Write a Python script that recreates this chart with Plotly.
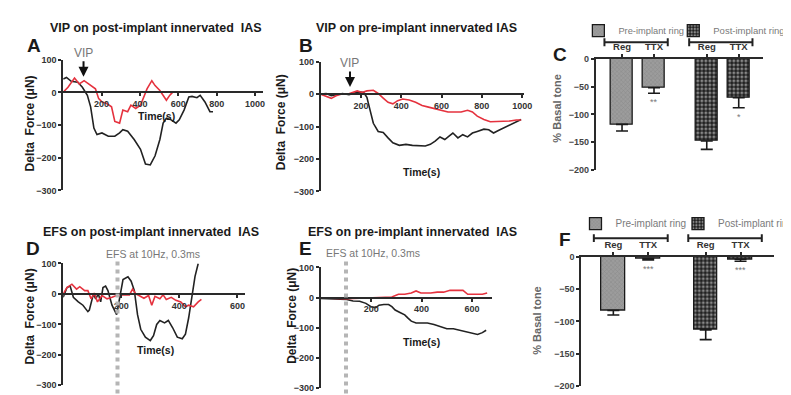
import plotly.graph_objects as go

# ---------------- data ----------------
A_black_t = [0, 17, 42, 76, 100, 126, 143, 160, 176, 202, 235, 269, 294, 311, 336, 370, 403, 429, 454,
             479, 504, 521, 538, 563, 588, 605, 630, 655, 672, 697, 714, 739, 765, 781]
A_black = [41, 46, 34, 31, 16, -9, -44, -109, -129, -124, -134, -134, -124, -114, -119, -144, -174, -219,
           -222, -194, -144, -94, -79, -84, -94, -84, -54, -14, -12, -16, -9, -29, -59, -59]
A_red_t = [0, 25, 59, 84, 109, 143, 168, 185, 202, 227, 252, 269, 294, 311, 336, 353, 378, 403, 420, 437,
           462, 479, 504, 521, 538, 555, 571]
A_red = [1, 16, 44, 26, 36, 21, 11, -19, -29, -34, -44, -89, -94, -54, -59, -39, -49, -39, -14, 11, 36, 21,
         6, -9, -24, -9, 1]

B_black_t = [0, 27, 52, 76, 108, 140, 165, 189, 213, 229, 245, 261, 285, 310, 334, 358, 390, 423, 455, 487,
             519, 544, 568, 592, 616, 640, 656, 681, 705, 729, 753, 777, 810, 834, 858, 882, 906, 939, 971, 995]
B_black = [0, 2, -5, -2, 2, -2, 2, 7, 5, -10, -50, -90, -115, -118, -135, -150, -158, -155, -158, -158,
           -160, -155, -145, -132, -140, -128, -120, -135, -125, -132, -120, -115, -108, -110, -120, -112,
           -105, -95, -85, -78]
B_red_t = [0, 27, 52, 76, 100, 132, 156, 181, 205, 229, 261, 285, 310, 334, 358, 382, 406, 439, 471, 503,
           535, 568, 600, 632, 665, 697, 729, 753, 777, 810, 842, 874, 906, 939, 971, 995]
B_red = [0, -8, -13, -5, 0, 0, 5, 10, 5, 10, 12, 2, -12, -25, -30, -20, -15, -18, -25, -35, -40, -45, -48,
         -55, -55, -55, -50, -55, -68, -78, -85, -85, -85, -83, -80, -80]

D_black_t = [0, 13, 24, 35, 52, 68, 85, 90, 104, 112, 121, 129, 137, 146, 154, 168, 184, 195, 206, 223,
             234, 245, 256, 267, 283, 300, 311, 322, 333, 349, 362, 377, 393, 410, 421, 432, 443, 454, 465]
D_black = [-11, 21, 26, -11, -26, -37, -58, -53, 0, -16, 0, -26, 21, 26, 11, -37, -68, -16, 47, 56, 42, 11,
           -68, -116, -142, -153, -137, -100, -87, -95, -87, -111, -142, -147, -132, -79, -5, 58, 100]
D_red_t = [0, 13, 30, 46, 57, 74, 85, 96, 107, 118, 134, 151, 168, 184, 206, 228, 239, 250, 261, 278, 294,
           305, 316, 333, 344, 355, 372, 388, 405, 421, 432, 449, 465, 476]
D_red = [0, 21, 32, 16, 24, 11, 11, -16, 3, -26, -5, -16, -11, -5, -3, -3, 16, 0, -5, -14, -5, -37, -8,
         -16, -3, -18, -11, -21, -26, -42, -37, -42, -26, -18]

E_black_t = [0, 51, 103, 128, 154, 179, 199, 218, 231, 250, 269, 282, 295, 314, 333, 346, 359, 378, 397,
             423, 449, 474, 500, 526, 551, 577, 603, 622, 641, 656]
E_black = [-3, -4, -6, -11, -12, -19, -30, -33, -25, -23, -23, -30, -41, -49, -57, -68, -78, -84, -84, -84,
           -89, -95, -103, -103, -108, -111, -116, -122, -116, -108]
E_red_t = [0, 51, 103, 154, 205, 256, 282, 308, 333, 359, 378, 397, 436, 462, 487, 513, 538, 564, 583, 615,
           641, 660]
E_red = [-1, -2, -4, -2, 0, 0, 2, 11, 11, 15, 22, 15, 15, 18, 18, 24, 24, 24, 11, 11, 11, 15]

bar_labels = ["Reg", "TTX"]
C_pre = [-118, -52]
C_pre_err = [12, 10]
C_post = [-148, -70]
C_post_err = [15, 18]
C_stars = ["", "**", "", "*"]
F_pre = [-83, -3]
F_pre_err = [7, 2]
F_post = [-113, -4]
F_post_err = [15, 3]
F_stars = ["", "***", "", "***"]

line_xticks = [200, 400, 600, 800, 1000]
line_yticks = [100, 0, -100, -200, -300]
bar_yticks = [0, -50, -100, -150, -200]

VIP_time_A = 106
VIP_time_B = 145
EFS_time_D = 187
EFS_time_E = 100

# ---------------- layout helpers ----------------
W, H = 791, 395
def fx(p):
    return p / W
def fy(p):
    return 1 - p / H

FONT = "Arial, 'Liberation Sans', sans-serif"
BLACK = "#222222"
RED = "#e5323e"
AX = "#2a2a2a"
TICKFONT = dict(family=FONT, size=9, color="#333333", weight="bold")

fig = go.Figure()

def add_line(t, v, color, xa, ya):
    fig.add_trace(go.Scatter(x=t, y=v, mode="lines", line=dict(color=color, width=1.6),
                             xaxis=xa, yaxis=ya, showlegend=False, hoverinfo="skip"))

add_line(A_black_t, A_black, BLACK, "x", "y")
add_line(A_red_t, A_red, RED, "x", "y")
add_line(B_black_t, B_black, BLACK, "x2", "y2")
add_line(B_red_t, B_red, RED, "x2", "y2")
add_line(D_black_t, D_black, BLACK, "x4", "y4")
add_line(D_red_t, D_red, RED, "x4", "y4")
add_line(E_black_t, E_black, BLACK, "x5", "y5")
add_line(E_red_t, E_red, RED, "x5", "y5")

PRE_PAT = dict(shape="x", fgcolor="#6e6e6e", bgcolor="#9c9c9c", size=3, solidity=0.25)
POST_PAT = dict(shape=".", fgcolor="#f2f2f2", bgcolor="#1e1e1e", size=4, solidity=0.45)
GROUP_OFFSET = 2.65
pre_x = [0, 1]
post_x = [GROUP_OFFSET, GROUP_OFFSET + 1]

def add_bars(vals, errs, xs, pat, name, xa, ya, leg):
    fig.add_trace(go.Bar(x=xs, y=vals, width=0.68, name=name, xaxis=xa, yaxis=ya, legend=leg,
                         marker=dict(color=pat["bgcolor"], pattern=pat, line=dict(color="#1a1a1a", width=1.3)),
                         error_y=dict(type="data", symmetric=False, array=[0] * len(errs), arrayminus=errs,
                                      color="#1a1a1a", thickness=1.6, width=6),
                         showlegend=True, hoverinfo="skip"))

add_bars(C_pre, C_pre_err, pre_x, PRE_PAT, "Pre-implant ring", "x3", "y3", "legend")
add_bars(C_post, C_post_err, post_x, POST_PAT, "Post-implant ring", "x3", "y3", "legend2")
add_bars(F_pre, F_pre_err, pre_x, PRE_PAT, "Pre-implant ring", "x6", "y6", "legend3")
add_bars(F_post, F_post_err, post_x, POST_PAT, "Post-implant ring", "x6", "y6", "legend4")

# ---------------- axes ----------------
def line_axes(xn, yn, xdom_px, ydom_px, xmax):
    y0, y1 = fy(ydom_px[1]), fy(ydom_px[0])
    zero_pos = y0 + (0 - (-300)) / 400 * (y1 - y0)
    xkey = "xaxis" if xn == 1 else f"xaxis{xn}"
    ykey = "yaxis" if yn == 1 else f"yaxis{yn}"
    xsuffix = "" if xn == 1 else str(xn)
    fig.update_layout(**{
        xkey: dict(domain=[fx(xdom_px[0]), fx(xdom_px[1])], range=[0, xmax], anchor="free",
                   position=zero_pos, showline=True, linecolor=AX, linewidth=1.8,
                   tickvals=[t for t in line_xticks if t <= xmax], ticks="outside", ticklen=3,
                   tickwidth=1.5, tickcolor=AX, tickfont=TICKFONT, showgrid=False, zeroline=False,
                   fixedrange=True),
        ykey: dict(domain=[y0, y1], range=[-300, 100], anchor="x" + xsuffix, showline=True,
                   linecolor=AX, linewidth=1.8, tickvals=line_yticks, ticks="outside", ticklen=3,
                   tickwidth=1.5, tickcolor=AX, tickfont=TICKFONT, showgrid=False, zeroline=False,
                   fixedrange=True),
    })

line_axes(1, 1, (57, 263), (48, 182), 1040)
line_axes(2, 2, (323, 533), (50, 183), 1010)
line_axes(4, 4, (57, 245), (257, 382), 627)
line_axes(5, 5, (323, 500), (261, 385), 680)

def bar_axes(n, xdom_px, ydom_px, xrange):
    y0, y1 = fy(ydom_px[1]), fy(ydom_px[0])
    fig.update_layout(**{
        f"xaxis{n}": dict(domain=[fx(xdom_px[0]), fx(xdom_px[1])], range=xrange, anchor=f"y{n}",
                          side="top", showline=True, linecolor=AX, linewidth=1.8,
                          tickvals=pre_x + post_x, ticktext=bar_labels + bar_labels,
                          ticks="outside", ticklen=3, tickwidth=1.5, tickcolor=AX,
                          tickfont=dict(family=FONT, size=9.5, color="#333333", weight="bold"),
                          showgrid=False, zeroline=False, fixedrange=True),
        f"yaxis{n}": dict(domain=[y0, y1], range=[-200, 0], anchor=f"x{n}", showline=True,
                          linecolor=AX, linewidth=1.8, tickvals=bar_yticks, ticks="outside",
                          ticklen=3, tickwidth=1.5, tickcolor=AX,
                          tickfont=dict(family=FONT, size=9, color="#444", weight="bold"),
                          showgrid=False, zeroline=False, fixedrange=True),
    })

bar_axes(3, (607, 780), (47, 161), [-0.82, 4.42])
bar_axes(6, (592, 791), (250, 383), [-0.92, 4.61])

# ---------------- legends ----------------
def leg(xp, yp, size):
    return dict(x=fx(xp), y=fy(yp), xanchor="left", yanchor="middle", orientation="h",
                bgcolor="rgba(255,255,255,0)", borderwidth=0, itemwidth=30,
                font=dict(family=FONT, size=size, color="#7a7a7a"), itemclick=False,
                itemdoubleclick=False)

fig.update_layout(legend=leg(589, 18, 9.3), legend2=leg(687, 18, 9.5),
                  legend3=leg(586, 216, 10), legend4=leg(692, 216, 10))

# ---------------- annotations ----------------
ann = []
def text(x, y, s, size, color="#1a1a1a", bold=True, angle=0):
    ann.append(dict(x=fx(x), y=fy(y), xref="paper", yref="paper", text=s, showarrow=False,
                    xanchor="center", yanchor="middle", textangle=angle,
                    font=dict(family=FONT, size=size, color=color, weight="bold" if bold else "normal")))

text(153, 15, "VIP on post-implant innervated  IAS", 12.5)
text(422, 15, "VIP on pre-implant innervated IAS", 12.5)
text(148, 225, "EFS on post-implant innervated  IAS", 12.5)
text(418, 225, "EFS on pre-implant innervated  IAS", 12.5)
text(27, 33, "A", 19)
text(308, 33, "B", 19)
text(570, 43, "C", 19)
text(26, 242, "D", 19)
text(307, 242, "E", 19)
text(575, 232, "F", 19)
text(153, 106, "Time(s)", 10.5)
text(427, 163, "Time(s)", 10.5)
text(152, 346, "Time(s)", 10.5)
text(427, 338, "Time(s)", 10.5)
text(150, 247, "EFS at 10Hz, 0.3ms", 10.5, "#777", False)
text(377, 246, "EFS at 10Hz, 0.3ms", 10.5, "#777", False)

# y-axis titles
YT = "Delta  Force (μN)"
text(23, 113, YT, 12, angle=-90)
text(282, 112, YT, 12, angle=-90)
text(23, 311, YT, 12, angle=-90)
text(293, 311, YT, 12, angle=-90)
text(566, 98, "% Basal tone", 11, "#666", angle=-90)
text(546, 316, "% Basal tone", 11, "#666", angle=-90)

for xa, ya, t, tip in (("x", "y", VIP_time_A, 48), ("x2", "y2", VIP_time_B, 22)):
    ann.append(dict(x=t, y=tip, xref=xa, yref=ya, text="VIP", showarrow=True, arrowhead=2,
                    arrowsize=1, arrowwidth=2, arrowcolor="#111", ax=0, ay=-24,
                    font=dict(family=FONT, size=12, color="#777")))

for xa, ya, xs, vals, errs, stars in (("x3", "y3", pre_x + post_x, C_pre + C_post, C_pre_err + C_post_err, C_stars),
                                     ("x6", "y6", pre_x + post_x, F_pre + F_post, F_pre_err + F_post_err, F_stars)):
    for xv, v, e, s in zip(xs, vals, errs, stars):
        if s:
            ann.append(dict(x=xv, y=v - e, xref=xa, yref=ya, text=s, showarrow=False, yanchor="top",
                            yshift=-2, font=dict(family=FONT, size=9, color="#777")))

fig.update_layout(annotations=ann)

# ---------------- shapes: brackets and EFS markers ----------------
shapes = []
def bracket(xa, xl, xr, yp):
    yc = fy(yp)
    d = 4 / H
    shapes.append(dict(type="path", xref=xa, yref="paper",
                       path=f"M {xl},{yc - d} L {xl},{yc + d} M {xl},{yc} L {xr},{yc} M {xr},{yc - d} L {xr},{yc + d}",
                       line=dict(color="#222", width=2)))

bracket("x3", pre_x[0] - 0.55, pre_x[1] + 0.43, 30)
bracket("x3", post_x[0] - 0.55, post_x[1] + 0.43, 30)
bracket("x6", pre_x[0] - 0.56, pre_x[1] + 0.56, 231)
bracket("x6", post_x[0] - 0.5, post_x[1] + 0.61, 231)

for xa, t in (("x4", EFS_time_D), ("x5", EFS_time_E)):
    shapes.append(dict(type="line", xref=xa, yref="paper", x0=t, x1=t, y0=fy(255), y1=0,
                       line=dict(color="#b5b5b5", width=4, dash="dot")))

fig.update_layout(shapes=shapes)

fig.update_layout(width=W, height=H, margin=dict(l=0, r=0, t=0, b=0),
                  paper_bgcolor="white", plot_bgcolor="white",
                  font=dict(family=FONT), bargap=0)

fig.write_html("out.html")
